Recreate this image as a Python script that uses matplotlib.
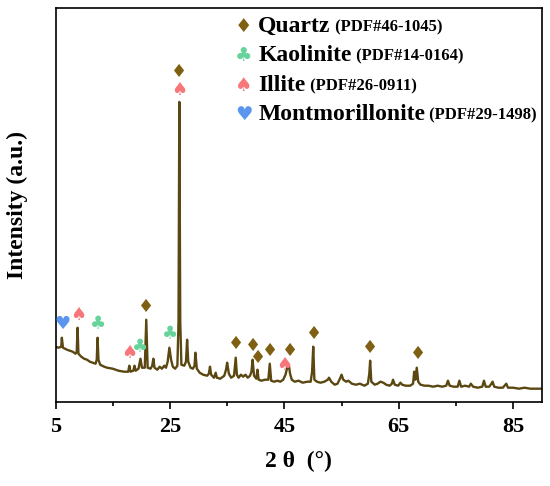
import matplotlib
matplotlib.use('Agg')
import matplotlib.pyplot as plt

# XRD trace (2 theta in degrees, intensity in arbitrary units)
two_theta = [5.0, 5.5, 6.0, 6.1, 6.3, 7.0, 7.5, 8.0, 8.5, 8.7, 8.85, 9.0, 9.5, 10.0,
             10.5, 11.0, 11.5, 12.0, 12.2, 12.35, 12.5, 12.8, 13.5, 14.0, 15.0, 16.0,
             17.0, 17.7, 17.9, 18.1, 18.6, 18.8, 19.0, 19.5, 19.85, 20.1, 20.6, 20.86,
             21.1, 21.6, 21.9, 22.1, 22.3, 22.8, 23.2, 23.6, 24.0, 24.3, 24.6, 24.9,
             25.2, 25.5, 25.9, 26.3, 26.5, 26.64, 26.8, 27.0, 27.5, 27.8, 28.0, 28.2,
             28.6, 29.0, 29.3, 29.45, 29.7, 30.2, 30.8, 31.5, 31.8, 32.0, 32.2, 32.7,
             33.0, 33.2, 33.8, 34.5, 34.8, 35.0, 35.3, 35.7, 36.2, 36.5, 36.7, 37.0,
             37.4, 37.8, 38.2, 38.6, 39.0, 39.25, 39.45, 39.7, 40.1, 40.3, 40.5, 41.0,
             41.6, 42.2, 42.45, 42.7, 43.2, 43.8, 44.3, 44.8, 45.2, 45.5, 45.8, 46.0,
             46.3, 46.8, 47.5, 48.2, 49.0, 49.6, 49.85, 50.05, 50.25, 50.7, 51.3, 52.0,
             52.6, 52.8, 53.2, 53.8, 54.3, 54.8, 55.0, 55.3, 55.8, 56.2, 56.8, 57.5,
             58.2, 59.0, 59.6, 59.85, 60.0, 60.2, 60.8, 61.3, 61.8, 62.3, 62.8, 63.4,
             63.8, 64.0, 64.3, 64.9, 65.3, 65.6, 66.2, 67.0, 67.5, 67.7, 67.9, 68.15,
             68.4, 68.8, 69.5, 70.2, 71.0, 71.8, 72.6, 73.3, 73.6, 73.9, 74.6, 75.3,
             75.6, 75.9, 76.6, 77.3, 77.6, 78.0, 78.8, 79.6, 79.9, 80.2, 80.8, 81.2,
             81.4, 81.7, 82.4, 83.2, 83.8, 84.1, 85.0, 86.0, 87.0, 88.0, 89.0, 90.0]
intensity = [55, 54, 55, 64, 54, 52, 51, 50, 48, 50, 74, 48, 45, 43,
             42, 40, 39, 38, 42, 64, 42, 37, 35, 34, 33, 31,
             30, 30, 36, 30, 31, 36, 31, 33, 43, 34, 34, 82,
             34, 33, 36, 43, 34, 32, 35, 33, 36, 34, 40, 54,
             42, 35, 33, 36, 80, 300, 80, 37, 36, 40, 62, 40,
             34, 33, 36, 49, 33, 29, 27, 26, 28, 35, 27, 24,
             29, 24, 23, 26, 32, 39, 28, 24, 26, 44, 27, 24,
             27, 25, 27, 24, 26, 30, 42, 26, 23, 32, 22, 21,
             22, 22, 38, 21, 20, 21, 20, 22, 27, 34, 36, 28,
             22, 20, 21, 19, 20, 20, 30, 55, 22, 20, 19, 20,
             22, 24, 20, 17, 18, 24, 27, 22, 20, 21, 18, 17,
             18, 16, 18, 28, 41, 20, 17, 18, 20, 19, 17, 16,
             18, 22, 17, 16, 19, 17, 16, 16, 18, 30, 22, 34,
             20, 17, 16, 16, 15, 16, 15, 16, 21, 16, 15, 15,
             21, 15, 16, 15, 18, 15, 14, 15, 21, 15, 15, 18,
             20, 15, 14, 14, 18, 14, 14, 13, 14, 13, 13, 13]

# phase markers: (2 theta, height) for each phase
quartz_x = [26.64, 20.9, 36.6, 39.5, 40.4, 42.5, 46.0, 50.2, 60.05, 68.45]
quartz_y = [332, 97, 60, 58, 46, 53, 53, 70, 56, 50]
kaolinite_x = [12.45, 19.85, 25.0]
kaolinite_y = [79, 56, 69]
illite_x = [26.64, 8.95, 17.9, 44.9]
illite_y = [314, 89, 51, 39]
montmor_x = [6.2]
montmor_y = [80]

phase_names = ['Quartz', 'Kaolinite', 'Illite', 'Montmorillonite']
phase_cards = ['(PDF#46-1045)', '(PDF#14-0164)', '(PDF#26-0911)', '(PDF#29-1498)']
phase_symbols = ['\u2666', '\u2663', '\u2660', '\u2665']
phase_colors = ['#7f5f12', '#66d39a', '#f7767a', '#5b95ee']

serif = 'Liberation Serif'

fig = plt.figure(figsize=(5.5, 4.86), dpi=100)
ax = fig.add_axes([0.101, 0.1735, 0.884, 0.81])

ax.plot(two_theta, intensity, color='#5a4711', lw=1.7)

marker_sets = [(quartz_x, quartz_y), (kaolinite_x, kaolinite_y),
               (illite_x, illite_y), (montmor_x, montmor_y)]
for (xs, ys), sym, col in zip(marker_sets, phase_symbols, phase_colors):
    for x, y in zip(xs, ys):
        ax.text(x, y - 2, sym, color=col, fontsize=13, ha='center', va='center',
                family='DejaVu Sans')

# legend drawn by hand, symbol + bold name + smaller card number
rows_base = [0.940, 0.866, 0.790, 0.715]
for yy, sym, col, name, card in zip(rows_base, phase_symbols, phase_colors,
                                    phase_names, phase_cards):
    ax.text(0.387, yy + 0.014, sym, color=col, fontsize=14, ha='center',
            va='center', transform=ax.transAxes, family='DejaVu Sans')
    t = ax.text(0.417, yy, name, fontsize=17, fontweight='bold', family=serif,
                ha='left', va='baseline', transform=ax.transAxes)
    ax.annotate(' ' + card, xy=(1, 0), xycoords=t, xytext=(0, 1.1),
                textcoords='offset points', fontsize=12, fontweight='bold',
                family=serif, ha='left', va='bottom')

ax.set_xlim(5, 90)
ax.set_ylim(0, 394)
ax.set_xticks([5, 25, 45, 65, 85])
ax.set_xticks([15, 35, 55, 75], minor=True)
ax.set_yticks([])
ax.tick_params(axis='x', which='major', direction='out', length=5, width=1.2,
               labelsize=16, pad=6)
ax.tick_params(axis='x', which='minor', direction='out', length=3, width=1.2)
for lab in ax.get_xticklabels():
    lab.set_fontfamily(serif)
    lab.set_fontweight('bold')
for sp in ax.spines.values():
    sp.set_linewidth(1.2)

ax.set_xlabel('2 \u03b8  (\u00b0)', fontsize=17, fontweight='bold', family=serif,
              labelpad=10)
ax.set_ylabel('Intensity (a.u.)', fontsize=17, fontweight='bold', family=serif,
              labelpad=20)

fig.savefig('out.png', dpi=100)
